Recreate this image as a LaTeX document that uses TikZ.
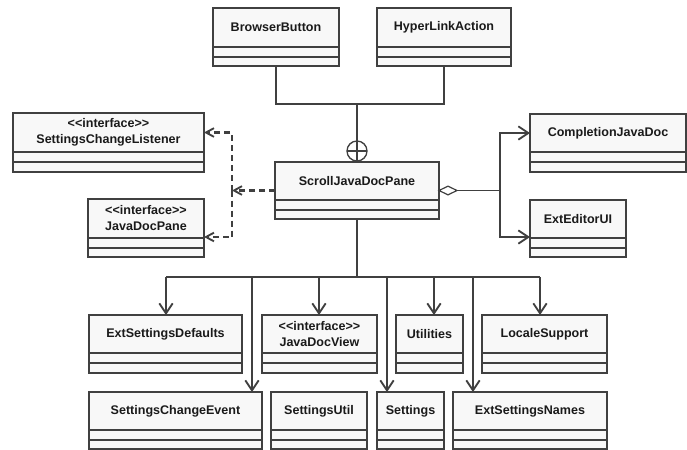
\documentclass[tikz,border=0pt]{standalone}
\usepackage{fontspec}
\setmainfont{Liberation Sans}[Ligatures=TeXOff]
\usetikzlibrary{arrows.meta,shapes.geometric}
\definecolor{ink}{HTML}{404040}
\definecolor{boxfill}{HTML}{F8F8F8}
\definecolor{txt}{HTML}{1A1A1A}
\tikzset{
  umlbox/.style={draw=ink, fill=boxfill, line width=1pt, rectangle, inner sep=0pt, outer sep=0pt},
  boxline/.style={draw=ink, line width=1pt},
  umltext/.style={text=txt, align=center, inner sep=0pt, font=\bfseries\fontsize{9.4}{12}\selectfont},
  conn/.style={draw=ink, line width=1.1pt},
  bus/.style={draw=ink, line width=1.6pt},
  arr/.style={draw=ink, line width=1.6pt, -{Straight Barb[length=7.5pt,width=10pt,line width=1.4pt]}},
  dep/.style={draw=ink, line width=1.6pt, dash pattern=on 4.5pt off 3pt, -{Straight Barb[length=6pt,width=6.5pt,line width=1.4pt]}},
}
\newcommand\umlclass[8]{%
  \pgfmathsetlengthmacro\uw{(#4-#2)*0.75pt}%
  \pgfmathsetlengthmacro\uh{(#5-#3)*0.75pt}%
  \node[umlbox, minimum width=\uw, minimum height=\uh] (#1) at ({(#2+#4)/2},{(#3+#5)/2}) {};
  \draw[boxline] (#2,#6) -- (#4,#6);
  \draw[boxline] (#2,#7) -- (#4,#7);
  \node[umltext] (#1-t) at ({(#2+#4)/2},{(#3+#6)/2}) {#8};
}
\begin{document}
\begin{tikzpicture}[x=0.75pt, y=-0.75pt]
\useasboundingbox (0,0) rectangle (687,450);

% classes
\umlclass{bb}{213}{8}{339}{66}{47}{57}{BrowserButton}
\umlclass{hla}{377}{8}{511}{66}{47}{57}{HyperLinkAction}
\umlclass{scl}{13}{113}{204}{172}{152}{162}{<<interface>>\\SettingsChangeListener}
\umlclass{jdp}{88}{199}{204}{257}{238}{248}{<<interface>>\\JavaDocPane}
\umlclass{sjdp}{275}{162}{439}{219}{200}{210}{ScrollJavaDocPane}
\umlclass{cjd}{530}{114}{686}{172}{152}{162}{CompletionJavaDoc}
\umlclass{eeui}{530}{200}{626}{257}{238}{248}{ExtEditorUI}
\umlclass{esd}{89}{315}{242}{373}{353}{363}{ExtSettingsDefaults}
\umlclass{jdv}{262}{315}{377}{373}{353}{363}{<<interface>>\\JavaDocView}
\umlclass{util}{396}{315}{463}{373}{353}{363}{Utilities}
\umlclass{ls}{482}{315}{607}{373}{353}{363}{LocaleSupport}
\umlclass{sce}{89}{392}{262}{449}{430}{440}{SettingsChangeEvent}
\umlclass{su}{271}{392}{367}{449}{430}{440}{SettingsUtil}
\umlclass{set}{377}{392}{444}{449}{430}{440}{Settings}
\umlclass{esn}{453}{392}{607}{449}{430}{440}{ExtSettingsNames}

% nesting (inner classes)
\node[circle, draw=ink, fill=white, line width=1pt, minimum size=15pt, inner sep=0pt, outer sep=0pt] (nest) at (357,151) {};
\draw[conn] (nest.north) -- (nest.south);
\draw[conn] (nest.west) -- (nest.east);
\coordinate (nj) at (357,104);
\draw[conn] (bb.south) |- (nj) -| (hla.south);
\draw[conn] (nj) -- (nest.north);

% dependencies to interfaces
\coordinate (dj) at (232,190.5);
\coordinate (jdpin) at ([yshift=-6.75pt]jdp.east);
\draw[dep] (sjdp.west) -- (dj);
\draw[dep] (dj) |- (scl.east |- scl-t);
\draw[dep] (dj) |- (jdpin);

% aggregation
\node[diamond, draw=ink, fill=white, line width=0.9pt, minimum width=13.5pt, minimum height=6.5pt, inner sep=0pt, outer sep=0pt, anchor=west] (dia) at (sjdp.east) {};
\coordinate (aj) at (500,190.5);
\coordinate (eein) at ([yshift=-6.4pt]eeui.west);
\draw[conn] (dia.east) -- (aj);
\draw[bus] (aj) |- (cjd.west |- cjd-t);
\draw[bus] (aj) |- (eein);
\draw[arr] (aj |- cjd-t) -- (cjd.west |- cjd-t);
\draw[arr] (aj |- eein) -- (eein);

% usage bus
\coordinate (bj) at (357,277);
\coordinate (b1) at (166,277);
\coordinate (b2) at (252,276);
\coordinate (b3) at (319,277);
\coordinate (b4) at (387,276);
\coordinate (b5) at (434,277);
\coordinate (b6) at (473,276);
\coordinate (b7) at (540,277);
\draw[conn, line width=1.3pt] (sjdp.south) -- (bj);
\draw[bus] (b1) -- (b7);
\draw[arr] (b1) -- (b1 |- esd.north);
\draw[arr] (b2) -- (b2 |- sce.north);
\draw[arr] (b3) -- (b3 |- jdv.north);
\draw[arr] (b4) -- (b4 |- set.north);
\draw[arr] (b5) -- (b5 |- util.north);
\draw[arr] (b6) -- (b6 |- esn.north);
\draw[arr] (b7) -- (b7 |- ls.north);
\end{tikzpicture}
\end{document}
